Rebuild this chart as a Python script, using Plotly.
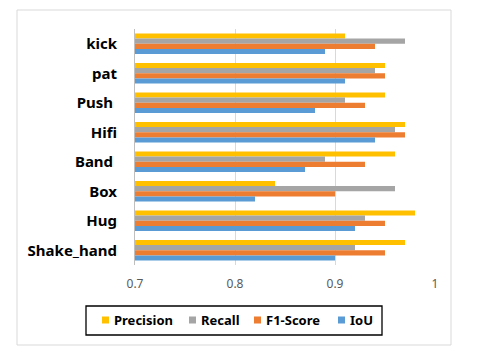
import plotly.graph_objects as go

# Dati
categorie = ["kick", "pat", "Push\u00a0", "Hifi", "Band\u00a0", "Box", "Hug", "Shake_hand"]
precision = [0.91, 0.95, 0.95, 0.97, 0.96, 0.84, 0.98, 0.97]
recall = [0.97, 0.94, 0.91, 0.96, 0.89, 0.96, 0.93, 0.92]
f1_score = [0.94, 0.95, 0.93, 0.97, 0.93, 0.90, 0.95, 0.95]
iou = [0.89, 0.91, 0.88, 0.94, 0.87, 0.82, 0.92, 0.90]
tick_valori = [0.7, 0.8, 0.9, 1.0]
tick_testi = ["0.7", "0.8", "0.9", "1"]

serie = [
    ("Precision", precision, "#FFC000"),
    ("Recall", recall, "#A5A5A5"),
    ("F1-Score", f1_score, "#ED7D31"),
    ("IoU", iou, "#5B9BD5"),
]

# area del grafico (px nella pagina): x 135-435, y 29-265
def px(x):
    return (x - 135) / 300

def py(y):
    return (265 - y) / 236

fig = go.Figure()
for nome, valori, colore in serie:
    fig.add_trace(go.Bar(
        y=categorie, x=valori, name=nome, orientation="h",
        marker=dict(color=colore, line=dict(width=0)),
        base=0, showlegend=False,
    ))

# Legenda disegnata a mano (riquadro nero, quadratini piccoli)
pos_legenda = [102, 189, 254, 338]
shapes = [
    dict(type="rect", xref="paper", yref="paper",
         x0=px(17), x1=px(451), y0=py(345), y1=py(10),
         line=dict(color="#D9D9D9", width=1)),
    dict(type="rect", xref="paper", yref="paper",
         x0=px(86), x1=px(382), y0=py(335), y1=py(306),
         line=dict(color="#000000", width=1.3)),
]
annotations = []
for (nome, _, colore), x0 in zip(serie, pos_legenda):
    shapes.append(dict(type="rect", xref="paper", yref="paper",
                       x0=px(x0), x1=px(x0 + 7), y0=py(323.5), y1=py(316.5),
                       fillcolor=colore, line=dict(width=0)))
    annotations.append(dict(xref="paper", yref="paper", x=px(x0 + 10), y=py(320),
                            xanchor="left", yanchor="middle", showarrow=False,
                            text=nome, font=dict(size=13, weight="bold", color="#000000")))

fig.update_layout(
    width=472, height=355,
    barmode="group", bargap=0.3, bargroupgap=0,
    margin=dict(l=127, r=45, t=21, b=98, autoexpand=False),
    paper_bgcolor="white", plot_bgcolor="white",
    font=dict(family="Noto Sans", color="#000000"),
    showlegend=False,
    shapes=shapes,
    annotations=annotations,
)

fig.update_xaxes(
    range=[0.7, 1.0], tickvals=tick_valori, ticktext=tick_testi,
    showgrid=True, gridcolor="#D9D9D9", gridwidth=1,
    zeroline=False, showline=False, automargin=False,
    tickfont=dict(size=12, color="#595959"),
    ticklabelstandoff=10,
)
fig.update_yaxes(
    autorange="reversed", automargin=False,
    showline=True, linecolor="#BFBFBF", linewidth=1,
    tickfont=dict(size=15, color="#000000", weight="bold"),
    ticklabelstandoff=14,
)

fig.write_html("out.html")
